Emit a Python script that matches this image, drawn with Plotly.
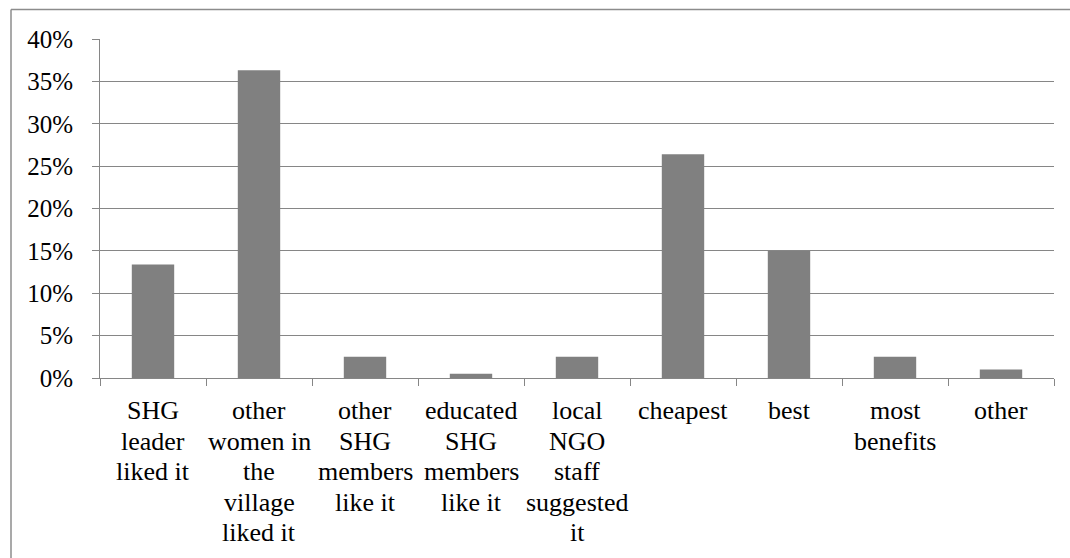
import plotly.graph_objects as go

# Reasons given for choosing the product (share of respondents)
categories = [
    "SHG leader liked it",
    "other women in the village liked it",
    "other SHG members like it",
    "educated SHG members like it",
    "local NGO staff suggested it",
    "cheapest",
    "best",
    "most benefits",
    "other",
]
# Wrapped category labels, one list entry per printed line
label_lines = [
    ["SHG", "leader", "liked it"],
    ["other", "women in", "the", "village", "liked it"],
    ["other", "SHG", "members", "like it"],
    ["educated", "SHG", "members", "like it"],
    ["local", "NGO", "staff", "suggested", "it"],
    ["cheapest"],
    ["best"],
    ["most", "benefits"],
    ["other"],
]
shares = [0.134, 0.363, 0.025, 0.005, 0.025, 0.264, 0.150, 0.025, 0.010]

W, H = 1070, 558
ML, MR, MT, MB = 100, 16, 39, 180
plot_w = W - ML - MR
plot_h = H - MT - MB


def px_to_paper_x(px):
    return (px - ML) / plot_w


def px_to_paper_y(py):
    return 1 - (py - MT) / plot_h


GRAY = "#868686"
SERIF = "Liberation Serif"
LABEL_FONT = dict(family=SERIF, size=26, color="black")
YTICK_FONT = dict(family=SERIF, size=25, color="black")
LINE_STEP = 30.6   # px between label lines
FIRST_GAP = 16     # px from axis line to top of first label line

fig = go.Figure(
    go.Bar(
        x=categories,
        y=shares,
        marker=dict(color="#808080", line=dict(width=0)),
        width=0.4,
    )
)

fig.update_layout(
    width=W,
    height=H,
    margin=dict(l=ML, r=MR, t=MT, b=MB, pad=0),
    paper_bgcolor="white",
    plot_bgcolor="white",
    font=dict(family=SERIF, color="black"),
    showlegend=False,
)

fig.update_xaxes(
    type="category",
    categoryorder="array",
    categoryarray=categories,
    tickson="boundaries",
    ticks="outside",
    ticklen=7,
    tickcolor=GRAY,
    tickwidth=1,
    showline=True,
    linecolor=GRAY,
    linewidth=1,
    showgrid=False,
    showticklabels=False,
)

fig.update_yaxes(
    range=[0, 0.4],
    dtick=0.05,
    tickformat=".0%",
    ticks="outside",
    ticklen=7,
    tickcolor=GRAY,
    tickwidth=1,
    showline=True,
    linecolor=GRAY,
    linewidth=1,
    showgrid=True,
    gridcolor=GRAY,
    gridwidth=1,
    zeroline=False,
    tickfont=YTICK_FONT,
    ticklabelstandoff=14,
)

# Category labels, centred under each category with tight line spacing
for cat, lines in zip(categories, label_lines):
    for i, line in enumerate(lines):
        fig.add_annotation(
            x=cat, y=0, xref="x", yref="y",
            text=line, showarrow=False,
            xanchor="center", yanchor="top",
            yshift=-(FIRST_GAP + i * LINE_STEP),
            font=LABEL_FONT,
        )

# Chart frame (left and top edges)
frame_x = px_to_paper_x(11)
frame_y = px_to_paper_y(9.5)
fig.add_shape(type="line", xref="paper", yref="paper",
              x0=frame_x, x1=frame_x, y0=frame_y, y1=px_to_paper_y(H + 5),
              line=dict(color="#8c8c8c", width=1.5))
fig.add_shape(type="line", xref="paper", yref="paper",
              x0=frame_x, x1=px_to_paper_x(W + 5), y0=frame_y, y1=frame_y,
              line=dict(color="#8c8c8c", width=1.5))

fig.write_html("out.html")
